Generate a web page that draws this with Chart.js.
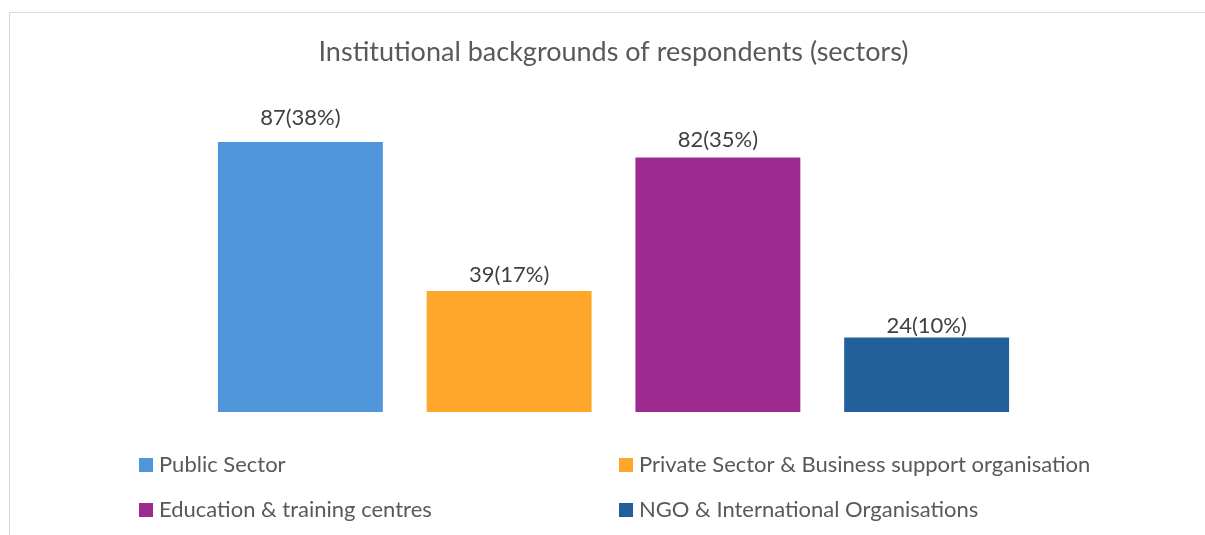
<!DOCTYPE html>
<html>
<head>
<meta charset="utf-8">
<script src="https://cdn.jsdelivr.net/npm/chart.js@4"></script>
<style>
  body { margin: 0; background: #fff; }
  #wrap { position: relative; width: 1205px; height: 535px; }
</style>
</head>
<body>
<div id="wrap"><canvas id="c" width="1205" height="535"></canvas></div>
<script>
const sectors = [
    'Public Sector',
    'Private Sector & Business support organisation',
    'Education & training centres',
    'NGO & International Organisations'
];
const counts   = [87, 39, 82, 24];
const percents = [38, 17, 35, 10];
const colors   = ['#4F95D9', '#FFA72B', '#9D2A8F', '#21609B'];

const FONT = 'Lato, "Open Sans", sans-serif';
// gap (px) between bar top and label baseline, labels were nudged by hand in the original
const labelGap = [17, 9, 11, 5];

// grey frame round the chart, like the office export
const framePlugin = {
    id: 'frame',
    beforeDraw(chart) {
        const ctx = chart.ctx;
        ctx.save();
        ctx.strokeStyle = '#d9d9d9';
        ctx.lineWidth = 1;
        ctx.beginPath();
        ctx.moveTo(9.5, 535);
        ctx.lineTo(9.5, 12.5);
        ctx.lineTo(1205, 12.5);
        ctx.stroke();
        ctx.restore();
    }
};

// "87(38%)" above every bar
const valueLabels = {
    id: 'valueLabels',
    afterDatasetsDraw(chart) {
        const ctx = chart.ctx;
        const meta = chart.getDatasetMeta(0);
        ctx.save();
        ctx.font = '22px ' + FONT;
        ctx.fillStyle = '#404040';
        ctx.textAlign = 'center';
        ctx.textBaseline = 'alphabetic';
        meta.data.forEach((bar, i) => {
            ctx.fillText(counts[i] + '(' + percents[i] + '%)', bar.x, bar.y - labelGap[i]);
        });
        ctx.restore();
    }
};

// two column legend under the plot
const gridLegend = {
    id: 'gridLegend',
    afterDraw(chart) {
        const ctx = chart.ctx;
        const colX = [139, 619];
        const rowY = [472, 517];   // text baselines
        ctx.save();
        ctx.font = '22px ' + FONT;
        ctx.textBaseline = 'alphabetic';
        sectors.forEach((name, i) => {
            const x = colX[i % 2];
            const y = rowY[Math.floor(i / 2)];
            ctx.fillStyle = colors[i];
            ctx.fillRect(x, y - 14, 14, 14);
            ctx.fillStyle = '#595959';
            ctx.fillText(name, x + 20, y);
        });
        ctx.restore();
    }
};

new Chart(document.getElementById('c'), {
    type: 'bar',
    data: {
        labels: sectors,
        datasets: [{
            data: counts,
            backgroundColor: colors,
            categoryPercentage: 0.79,
            barPercentage: 1.0
        }]
    },
    options: {
        responsive: false,
        animation: false,
        layout: {
            padding: { left: 196, right: 174, top: 0, bottom: 123 }
        },
        scales: {
            x: { display: false },
            y: { display: false, min: 0, max: 100 }
        },
        plugins: {
            legend: { display: false },
            tooltip: { enabled: false },
            title: {
                display: true,
                text: 'Institutional backgrounds of respondents (sectors)',
                color: '#595959',
                font: { family: FONT, size: 27, weight: 'normal', lineHeight: 1.2 },
                padding: { top: 36, bottom: 33.3 }
            }
        }
    },
    plugins: [framePlugin, valueLabels, gridLegend]
});
</script>
</body>
</html>
